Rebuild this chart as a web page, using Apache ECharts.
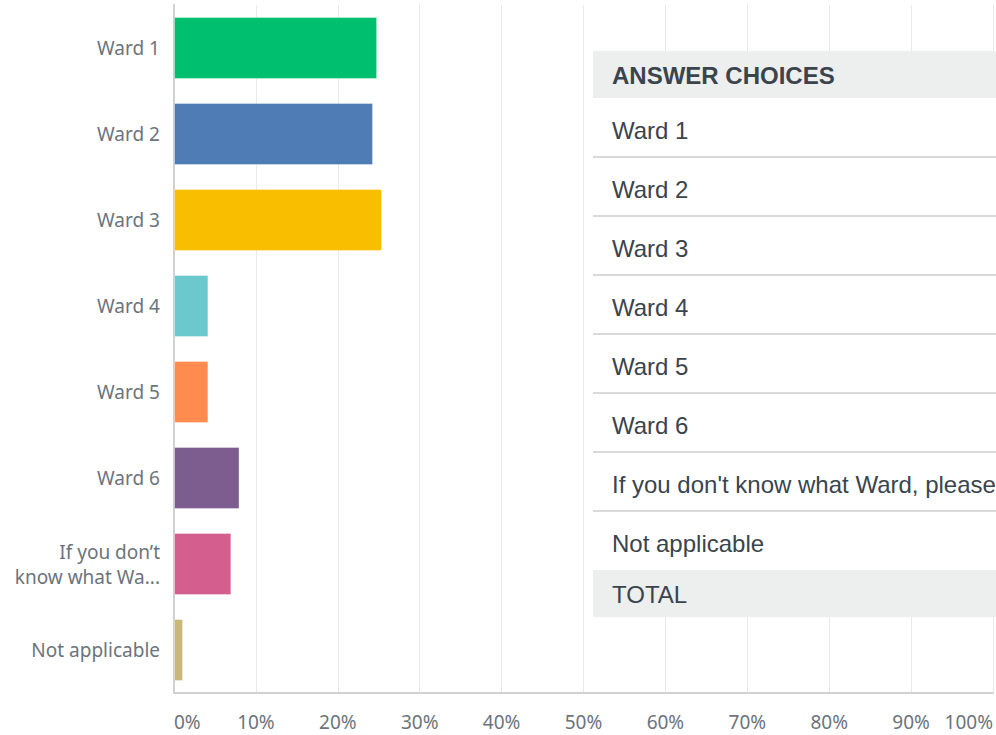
<!DOCTYPE html>
<html><head><meta charset="utf-8">
<script src="https://cdn.jsdelivr.net/npm/echarts@6/dist/echarts.min.js"></script>
<style>html,body{margin:0;padding:0;background:#fff}#c{width:996px;height:735px}</style>
</head><body><div id="c"></div>
<script>
// ---- data ----
const categories = ["Ward 1", "Ward 2", "Ward 3", "Ward 4", "Ward 5", "Ward 6", "If you don\u2019t\nknow what Wa...", "Not applicable"];
const values = [24.8, 24.3, 25.4, 4.2, 4.2, 8.0, 7.0, 1.1];
const barColors = ["#00BF6F", "#507CB6", "#F9BE00", "#6BC8CD", "#FF8B4F", "#7D5C8F", "#D45F8F", "#C9B87A"];
const tableHeader = "ANSWER CHOICES";
const tableRows = ["Ward 1", "Ward 2", "Ward 3", "Ward 4", "Ward 5", "Ward 6", "If you don't know what Ward, please select", "Not applicable"];
const tableFooter = "TOTAL";

// ---- table overlay (layout) ----
const T = { left: 593, top: 51, headH: 47, rowH: 59, textX: 612, width: 420 };
const TXT = '#3a444d', GRAY = '#edeeee', SEP = '#d8d9da';
const graphic = [];
graphic.push({ type: 'rect', z: 100, shape: { x: T.left, y: T.top, width: T.width, height: T.headH }, style: { fill: GRAY } });
graphic.push({ type: 'text', z: 101, x: T.textX, y: T.top + T.headH / 2 + 1, style: { text: tableHeader, fill: TXT, font: 'bold 24px "Liberation Sans", Arial, sans-serif', verticalAlign: 'middle' } });
const bodyTop = T.top + T.headH;
graphic.push({ type: 'rect', z: 100, shape: { x: T.left, y: bodyTop, width: T.width, height: T.rowH * tableRows.length }, style: { fill: '#fff' } });
tableRows.forEach((r, i) => {
  const y0 = bodyTop + i * T.rowH;
  graphic.push({ type: 'text', z: 101, x: T.textX, y: y0 + T.rowH / 2 + 3, style: { text: r, fill: TXT, font: '24px "Liberation Sans", Arial, sans-serif', verticalAlign: 'middle' } });
  if (i < tableRows.length - 1) {
    graphic.push({ type: 'line', z: 101, shape: { x1: T.left, y1: y0 + T.rowH, x2: T.left + T.width, y2: y0 + T.rowH }, style: { stroke: SEP, lineWidth: 2 } });
  }
});
const footTop = bodyTop + T.rowH * tableRows.length;
graphic.push({ type: 'rect', z: 100, shape: { x: T.left, y: footTop, width: T.width, height: T.headH }, style: { fill: GRAY } });
graphic.push({ type: 'text', z: 101, x: T.textX, y: footTop + T.headH / 2 + 1, style: { text: tableFooter, fill: TXT, font: '24px "Liberation Sans", Arial, sans-serif', verticalAlign: 'middle' } });

const chart = echarts.init(document.getElementById('c'), null, { renderer: 'svg' });
const labelFont = '"Noto Sans", sans-serif';
chart.setOption({
  animation: false,
  backgroundColor: '#fff',
  grid: { left: 174, right: 2, top: 5, bottom: 42, containLabel: false },
  xAxis: {
    type: 'value', min: 0, max: 100, interval: 10,
    axisLine: { show: true, lineStyle: { color: '#d0d1d2', width: 2 } },
    axisTick: { show: false },
    splitLine: { show: true, lineStyle: { color: '#e9e9e9', width: 1 } },
    axisLabel: { formatter: '{value}%', color: '#6b747c', fontFamily: labelFont, fontSize: 19, margin: 19, alignMinLabel: 'left', alignMaxLabel: 'right' }
  },
  yAxis: {
    type: 'category', data: categories, inverse: true,
    axisLine: { show: true, lineStyle: { color: '#d0d1d2', width: 2 } },
    axisTick: { show: false },
    splitLine: { show: false },
    axisLabel: { color: '#6b747c', fontFamily: labelFont, fontSize: 19, margin: 14, lineHeight: 25, align: 'right' }
  },
  series: [{
    type: 'bar', barWidth: 62,
    data: values.map((v, i) => ({ value: v, itemStyle: { color: barColors[i] } })),
    itemStyle: { borderColor: 'rgba(255,255,255,0.35)', borderWidth: 1 }
  }],
  graphic: graphic
});
</script>
</body></html>
